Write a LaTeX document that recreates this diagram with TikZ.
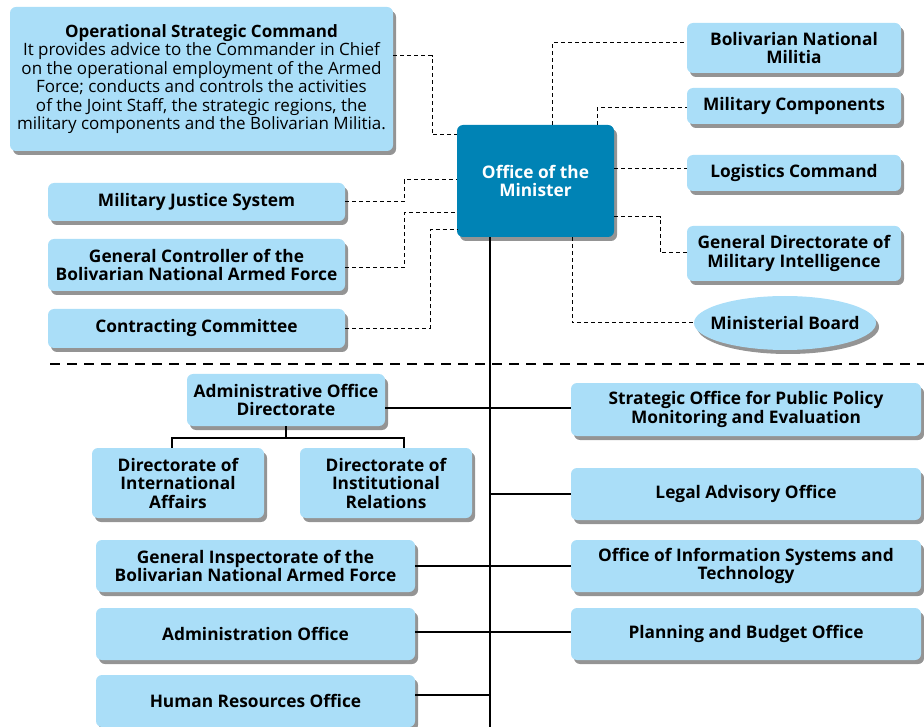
\documentclass[tikz,border=0pt]{standalone}
\usepackage{fontspec}
\setmainfont{Open Sans}
\usetikzlibrary{shapes.geometric,shadows}
\definecolor{boxblue}{RGB}{170,222,248}
\definecolor{minblue}{RGB}{0,131,181}

\begin{document}
\begin{tikzpicture}[x=1pt,y=-1pt,
	unit/.style={fill=boxblue, rounded corners=6pt, align=center, inner sep=0pt,
		font=\bfseries\fontsize{17.3}{18.5}\selectfont,
		drop shadow={shadow xshift=3pt, shadow yshift=-4pt, opacity=.6, fill=black!70}},
	link/.style={line width=1pt, dash pattern=on 4pt off 3pt},
	branch/.style={line width=1.2pt},
	sepline/.style={line width=2.5pt, dash pattern=on 10pt off 7pt}]
	\useasboundingbox (0,0) rectangle (924,727);
	
	% top block
	\node[unit, minimum width=157pt, minimum height=112pt, fill=minblue, text=white] (minister) at (535.5,181) {Office of the\\Minister};
	\node[unit, minimum width=383pt, minimum height=144pt, font=\fontsize{17}{18.5}\selectfont] (osc) at (201.5,79) {\textbf{Operational Strategic Command}\\
		It provides advice to the Commander in Chief\\on the operational employment of the Armed\\Force; conducts and controls the activities\\of the Joint Staff, the strategic regions, the\\military components and the Bolivarian Militia.};
	\node[unit, minimum width=297pt, minimum height=38pt] (justice) at (196.5,202) {Military Justice System};
	\node[unit, minimum width=297pt, minimum height=52pt] (controller) at (196.5,265) {General Controller of the\\Bolivarian National Armed Force};
	\node[unit, minimum width=297pt, minimum height=39pt] (contracting) at (196.5,328.5) {Contracting Committee};
	\node[unit, minimum width=214pt, minimum height=50pt] (militia) at (794,48) {Bolivarian National\\Militia};
	\node[unit, minimum width=214pt, minimum height=36pt] (components) at (794,106) {Military Components};
	\node[unit, minimum width=214pt, minimum height=36pt] (logistics) at (794,173) {Logistics Command};
	\node[unit, minimum width=214pt, minimum height=55pt] (intelligence) at (794,253.5) {General Directorate of\\Military Intelligence};
	\node[unit, ellipse, inner xsep=-11pt, minimum width=182pt, minimum height=54pt] (board) at (785,323) {Ministerial Board};
	
	\draw[link] (osc.east |- 0,56) -| (432,135) -- (minister.west |- 0,135);
	\draw[link] (justice.east) -| (404,180) -- (minister.west |- 0,180);
	\draw[link] (controller.east |- 0,268) -| (404,213) -- (minister.west |- 0,213);
	\draw[link] (contracting.east) -| (430,230) -- (minister.west |- 0,230);
	\draw[link] (minister.north -| 552,0) |- (militia.west |- 0,43);
	\draw[link] (minister.north -| 597,0) |- (components.west |- 0,108);
	\draw[link] (minister.east |- 0,169) -- (logistics.west |- 0,169);
	\draw[link] (minister.east |- 0,217) -| (660,253) -- (intelligence.west |- 0,253);
	\draw[link] (minister.south -| 572,0) |- (board.west);
	
	\coordinate (sepstart) at (50,364);
	\coordinate (sepend) at (924,364);
	\draw[sepline] (sepstart) -- (sepend);
	
	% bottom block
	\node[unit, minimum width=198pt, minimum height=52pt] (admdir) at (286,400) {Administrative Office\\Directorate};
	\node[unit, minimum width=172pt, minimum height=70pt] (intaffairs) at (178,483) {Directorate of\\International\\Affairs};
	\node[unit, minimum width=172pt, minimum height=70pt] (relations) at (386,483) {Directorate of\\Institutional\\Relations};
	\node[unit, minimum width=350pt, minimum height=53pt] (policy) at (746,409.5) {Strategic Office for Public Policy\\Monitoring and Evaluation};
	\node[unit, minimum width=350pt, minimum height=52pt] (legal) at (746,494) {Legal Advisory Office};
	\node[unit, minimum width=319pt, minimum height=52pt] (inspect) at (255.5,566) {General Inspectorate of the\\Bolivarian National Armed Force};
	\node[unit, minimum width=350pt, minimum height=52pt] (systems) at (746,566) {Office of Information Systems and\\Technology};
	\node[unit, minimum width=319pt, minimum height=52pt] (admin) at (255.5,634) {Administration Office};
	\node[unit, minimum width=350pt, minimum height=52pt] (budget) at (746,634) {Planning and Budget Office};
	\node[unit, minimum width=319pt, minimum height=52pt] (hr) at (255.5,701) {Human Resources Office};
	
	\coordinate (spineend) at (490,727);
	\draw[branch] (minister.south -| spineend) -- (spineend);
	\draw[branch] (admdir.east |- 0,408) -- (policy.west |- 0,408);
	\draw[branch] (spineend |- legal.west) -- (legal.west);
	\draw[branch] (inspect.east) -- (systems.west);
	\draw[branch] (admin.east |- 0,632) -- (budget.west |- 0,632);
	\draw[branch] (hr.east |- 0,695) -- (spineend |- 0,695);
	\draw[branch] (admdir.south) -- (admdir.south |- 0,438);
	\draw[branch] (intaffairs.north -| 172,0) |- (404,438) -- (relations.north -| 404,0);
	
\end{tikzpicture}
\end{document}
